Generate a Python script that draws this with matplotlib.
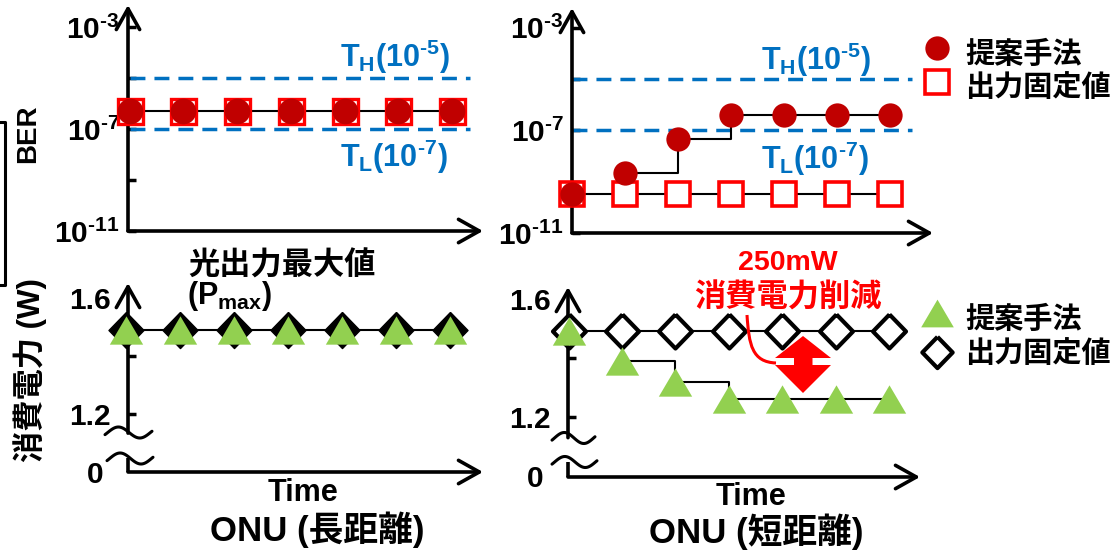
import numpy as np
import matplotlib
matplotlib.use("Agg")
import matplotlib.pyplot as plt
from matplotlib.patches import Polygon, PathPatch
from matplotlib.path import Path
from matplotlib.ticker import NullLocator

plt.rcParams['font.family'] = ['Liberation Sans', 'Noto Sans CJK JP', 'DejaVu Sans']
plt.rcParams['font.weight'] = 'bold'
plt.rcParams['mathtext.fontset'] = 'custom'
plt.rcParams['mathtext.rm'] = 'Liberation Sans:bold'
plt.rcParams['mathtext.it'] = 'Liberation Sans:bold'
plt.rcParams['mathtext.bf'] = 'Liberation Sans:bold'
plt.rcParams['mathtext.default'] = 'rm'

HY = '\u2010'  # short hyphen used in the superscripts

# ---------------- data ----------------
time_steps = [0, 1, 2, 3, 4, 5, 6]
ber_long_proposed = [5.0e-7, 5.0e-7, 5.0e-7, 5.0e-7, 5.0e-7, 5.0e-7, 5.0e-7]
ber_long_fixed = [5.0e-7, 5.0e-7, 5.0e-7, 5.0e-7, 5.0e-7, 5.0e-7, 5.0e-7]
ber_short_proposed = [3.3e-10, 2.2e-9, 4.6e-8, 3.8e-7, 3.8e-7, 3.8e-7, 3.8e-7]
ber_short_fixed = [3.3e-10, 3.3e-10, 3.3e-10, 3.3e-10, 3.3e-10, 3.3e-10, 3.3e-10]
ber_thresholds = [1e-5, 1e-7]
threshold_labels = [r'$T_H(10^{' + HY + r'5})$', r'$T_L(10^{' + HY + r'7})$']
power_long_proposed = [1.49, 1.49, 1.49, 1.49, 1.49, 1.49, 1.49]
power_long_fixed = [1.49, 1.49, 1.49, 1.49, 1.49, 1.49, 1.49]
power_short_proposed = [1.49, 1.39, 1.32, 1.26, 1.26, 1.26, 1.26]
power_short_fixed = [1.49, 1.49, 1.49, 1.49, 1.49, 1.49, 1.49]
ber_ticks = [1e-11, 1e-9, 1e-7, 1e-5, 1e-3]
ber_tick_labels = [r'$10^{' + HY + r'11}$', '', r'$10^{' + HY + r'7}$', '',
                   r'$10^{' + HY + r'3}$']
power_ticks = [1.0, 1.2, 1.4, 1.6]
power_tick_labels = ['0', '1.2', '', '1.6']
legend_labels = ['提案手法', '出力固定値']

# ---------------- style ----------------
W, H = 1111, 552
DARKRED = '#C00000'
RED = '#FF0000'
BLUE = '#0070C0'
GREEN = '#92D050'
CJK = ['Liberation Sans', 'Noto Sans CJK JP']
TRI = [(0, 0.85), (-1, -0.85), (1, -0.85), (0, 0.85)]
DIA = [(0, 1), (0.97, 0), (0, -1), (-0.97, 0), (0, 1)]

fig = plt.figure(figsize=(W / 100, H / 100), dpi=100)


def panel(x0, x1, yt, yb):
    ax = fig.add_axes([x0 / W, 1 - yb / H, (x1 - x0) / W, (yb - yt) / H])
    ax.set_facecolor('none')
    for s in ax.spines.values():
        s.set_visible(False)
    ax.set_xticks([])
    return ax


def arrow(ax, p0, p1, trans):
    ax.annotate('', xy=p1, xytext=p0, xycoords=trans, textcoords=trans,
                arrowprops=dict(arrowstyle='->,head_length=0.75,head_width=0.42',
                                lw=2.6, color='black', shrinkA=0, shrinkB=0,
                                mutation_scale=20),
                annotation_clip=False)


def ber_axes(ax, top_exp, xlim):
    ax.set_yscale('log')
    ax.set_ylim(1e-11, 10 ** top_exp)
    ax.set_xlim(*xlim)
    ax.set_yticks(ber_ticks)
    ax.set_yticklabels(ber_tick_labels)
    ax.yaxis.set_minor_locator(NullLocator())
    ax.tick_params(axis='y', direction='in', length=6, width=2.5, pad=6,
                   labelsize=21.5)
    arrow(ax, (0, 0), (0, 1), 'axes fraction')
    arrow(ax, (0, 0), (1, 0), 'axes fraction')


def power_axes(ax, ylim, xlim, brk_lo, brk_hi):
    ax.set_ylim(*ylim)
    ax.set_xlim(*xlim)
    ax.set_yticks(power_ticks)
    ax.set_yticklabels(power_tick_labels)
    ax.tick_params(axis='y', direction='in', length=6, width=2.5, pad=12.5,
                   labelsize=21.5)
    ticks = ax.yaxis.get_major_ticks()
    ticks[0].tick1line.set_visible(False)
    ticks[3].tick1line.set_visible(False)
    ticks[0].set_pad(18)
    tr = ax.get_yaxis_transform()
    ax.plot([0, 0], [ylim[0], brk_lo], color='black', lw=2.6, transform=tr,
            clip_on=False, solid_capstyle='butt')
    arrow(ax, (0, brk_hi), (0, ylim[1]), tr)
    arrow(ax, (0, 0), (1, 0), 'axes fraction')


# ---- BER, long distance ----
ax1 = panel(128, 483, 5, 231)
ber_axes(ax1, -11 + 226 / 25.5, (-1.5 / 53.75, 353.5 / 53.75))
ax1.hlines(ber_thresholds, 0, 6.33, colors=BLUE, lw=2.5, linestyles=(0, (4.3, 2.6)))
ax1.plot(time_steps, ber_long_fixed, color='black', lw=1.5, marker='s', ms=18,
         mfc='white', mec=RED, mew=2.4, clip_on=False, zorder=3)
ax1.plot(time_steps, ber_long_proposed, ls='none', marker='o', ms=18.5,
         mfc=DARKRED, mec=DARKRED, mew=0, clip_on=False, zorder=4)

# ---- BER, short distance ----
ax2 = panel(572, 933, 8, 233)
ber_axes(ax2, -11 + 225 / 25.67, (0, 361 / 53))
ax2.hlines(ber_thresholds, 0, 6.42, colors=BLUE, lw=2.5, linestyles=(0, (4.3, 2.6)))
ax2.plot(time_steps, ber_short_fixed, color='black', lw=1.5, marker='s', ms=17.5,
         mfc='white', mec=RED, mew=2.6, clip_on=False, zorder=3)
ax2.step(time_steps[1:], ber_short_proposed[1:], where='post', color='black',
         lw=1.5, clip_on=False, zorder=2)
ax2.plot(time_steps, ber_short_proposed, ls='none', marker='o', ms=17.5,
         mfc=DARKRED, mec=DARKRED, mew=0, clip_on=False, zorder=4)

# ---- Power, long distance ----
ax3 = panel(128, 483, 283, 472)
power_axes(ax3, (1.0, 1.0 + 189 / 290), (2.5 / 54.1, 357.5 / 54.1), 1.048, 1.134)
ax3.plot(time_steps, power_long_fixed, color='black', lw=1.5, marker=DIA, ms=26,
         mfc='black', mec='black', mew=1, clip_on=False, zorder=3)
ax3.plot(time_steps, power_long_proposed, ls='none', marker=TRI, ms=24,
         mfc=GREEN, mec=GREEN, mew=0, clip_on=False, zorder=4)

# ---- Power, short distance ----
ax4 = panel(568, 920, 287, 477)
power_axes(ax4, (1.0 - 1 / 295, 1.0 - 1 / 295 + 190 / 295), (-0.5 / 53.4, 351.5 / 53.4),
           1.047, 1.13)
ax4.plot(time_steps, power_short_fixed, color='black', lw=1.5, marker=DIA, ms=24.5,
         mfc='white', mec='black', mew=3, clip_on=False, zorder=3)
ax4.step(time_steps[1:], power_short_proposed[1:], where='post', color='black',
         lw=1.5, clip_on=False, zorder=2)
ax4.plot(time_steps, power_short_proposed, ls='none', marker=TRI, ms=24,
         mfc=GREEN, mec=GREEN, mew=0, clip_on=False, zorder=4)

# ---------------- overlay (pixel coordinates) ----------------
ov = fig.add_axes([0, 0, 1, 1])
ov.set_xlim(0, W)
ov.set_ylim(H, 0)
ov.set_axis_off()


def wave(x0, x1, yc, amp=5.5):
    t = np.linspace(0, 1, 60)
    ov.plot(x0 + (x1 - x0) * t, yc - amp * np.sin(2 * np.pi * 1.1 * t - 0.4),
            color='black', lw=2.2, solid_capstyle='round')


wave(105, 152, 432.5)
wave(107, 153, 458.5)
wave(552, 595, 438)
wave(552, 597, 462)

# bracket at far left
ov.plot([0, 5, 5, 0], [122, 122, 285, 285], color='black', lw=2.2)

# threshold labels
for ypx, lab in zip([57, 157], threshold_labels):
    ov.text(340, ypx, lab, color=BLUE, fontsize=22, ha='left', va='center')
for ypx, lab in zip([60, 159], threshold_labels):
    ov.text(761, ypx, lab, color=BLUE, fontsize=22, ha='left', va='center')

# axis titles
ov.text(28, 134, 'BER', rotation=90, ha='center', va='center', fontsize=20)
ov.text(30, 370, '消費電力 (W)', rotation=90, ha='center', va='center',
        fontsize=22.5, family=CJK)
ov.text(188, 266, '光出力最大値', ha='left', va='center', fontsize=22.5, family=CJK)
ov.text(187, 296, r'$(P_{max})$', ha='left', va='center', fontsize=22)
ov.text(303, 493, 'Time', ha='center', va='center', fontsize=22)
ov.text(751, 497, 'Time', ha='center', va='center', fontsize=22)
ov.text(317, 530, 'ONU (長距離)', ha='center', va='center', fontsize=25, family=CJK)
ov.text(756, 532, 'ONU (短距離)', ha='center', va='center', fontsize=25, family=CJK)

# legends
ov.plot([937], [47.5], ls='none', marker='o', ms=17.5, mfc=DARKRED, mec=DARKRED, mew=0)
ov.plot([937], [82], ls='none', marker='s', ms=17.5, mfc='white', mec=RED, mew=2.6)
ov.plot([937], [313], ls='none', marker=TRI, ms=23.5, mfc=GREEN, mec=GREEN, mew=0)
ov.plot([937], [352], ls='none', marker=DIA, ms=22.5, mfc='white', mec='black', mew=3)
for ypx, lab in zip([55, 88], legend_labels):
    ov.text(965, ypx, lab, ha='left', va='center', fontsize=21, family=CJK)
for ypx, lab in zip([320, 354], legend_labels):
    ov.text(965, ypx, lab, ha='left', va='center', fontsize=21, family=CJK)

# annotation: 250mW reduction
ov.text(788, 263, '250mW', color=RED, ha='center', va='center', fontsize=20.5)
ov.text(788, 298, '消費電力削減', color=RED, ha='center', va='center', fontsize=22.5,
        family=CJK)
curve = Path([(747, 315), (749, 345), (752, 362), (776, 363)],
             [Path.MOVETO, Path.CURVE4, Path.CURVE4, Path.CURVE4])
ov.add_patch(PathPatch(curve, fill=False, ec=RED, lw=2.2))
dbl = [(803, 336), (831, 358), (812.5, 358), (812.5, 365), (831, 365), (803, 393),
       (775, 365), (794, 365), (794, 358), (775, 358)]
ov.add_patch(Polygon(dbl, closed=True, fc=RED, ec='none'))

fig.savefig('out.png', dpi=100)
